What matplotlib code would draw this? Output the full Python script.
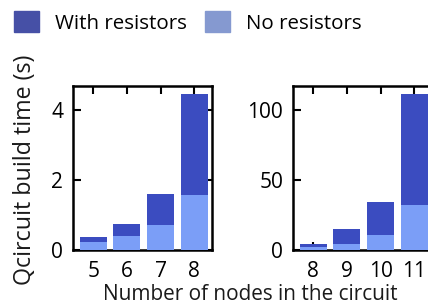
import matplotlib
matplotlib.use("Agg")
import matplotlib.pyplot as plt
from matplotlib.patches import Patch

plt.rcParams['font.family'] = ['Open Sans', 'DejaVu Sans']

nodes_left = ["5", "6", "7", "8"]
with_res_left = [0.37, 0.74, 1.60, 4.46]
no_res_left = [0.24, 0.40, 0.71, 1.57]

nodes_right = ["8", "9", "10", "11"]
with_res_right = [4.3, 15, 34, 111]
no_res_right = [2.0, 4.3, 11, 32]

legend_labels = ["With resistors", "No resistors"]
ylabel = "Qcircuit build time (s)"
xlabel = "Number of nodes in the circuit"

dark = "#3b4cc0"
light = "#7b9ef7"
dark_leg = "#4650a6"
light_leg = "#8599d0"

W, H = 428, 305
fig = plt.figure(figsize=(W / 100, H / 100), dpi=100)
renderer = fig.canvas.get_renderer()


def fit_size(text, target_px, base=15):
    t = fig.text(0, 0, text, fontsize=base)
    w = t.get_window_extent(renderer).width
    t.remove()
    return base * target_px / w


def px_axes(x0, y_top, w, h):
    return fig.add_axes([x0 / W, (H - y_top - h) / H, w / W, h / H])


axL = px_axes(73, 86, 139, 164)
axR = px_axes(293, 86, 139, 164)

for ax, cats, wr, nr, ylim, yt in [
    (axL, nodes_left, with_res_left, no_res_left, 4.69, [0, 2, 4]),
    (axR, nodes_right, with_res_right, no_res_right, 117, [0, 50, 100]),
]:
    x = list(range(len(cats)))
    ax.bar(x, wr, width=0.8, color=dark, zorder=2)
    ax.bar(x, nr, width=0.8, color=light, zorder=3)
    ax.set_xlim(-0.6, 3.53)
    ax.set_ylim(0, ylim)
    ax.set_xticks(x)
    ax.set_xticklabels(cats)
    ax.set_yticks(yt)
    ax.tick_params(direction='in', length=6, width=1.5, top=True, right=True,
                   labelsize=15, colors='black')
    ax.tick_params(axis='x', pad=8)
    ax.tick_params(axis='y', pad=7)
    for s in ax.spines.values():
        s.set_linewidth(1.8)

ys = fit_size(ylabel, 230)
fig.text(25 / W, 1 - 170 / H, ylabel, rotation=90,
         ha='center', va='center', fontsize=ys, color='#1a1a1a')
xs = fit_size(xlabel, 295)
fig.text(250.5 / W, 1 - 295 / H, xlabel,
         ha='center', va='center', fontsize=xs, color='#1a1a1a')

ls = fit_size(legend_labels[0], 132)
em = ls * 100 / 72
handles = [Patch(color=dark_leg, label=legend_labels[0]),
           Patch(color=light_leg, label=legend_labels[1])]
fig.legend(handles=handles, loc='upper left',
           bbox_to_anchor=(14 / W, 1 - 11 / H),
           ncol=2, frameon=False, fontsize=ls,
           handlelength=25 / em, handleheight=25 / em,
           handletextpad=16 / em, columnspacing=18 / em,
           borderpad=0, borderaxespad=0)

fig.savefig("out.png", dpi=100)
